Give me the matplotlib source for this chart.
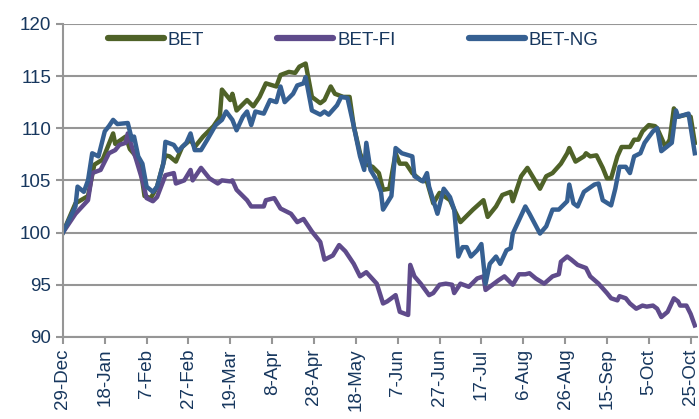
import pandas as pd
import matplotlib
matplotlib.use("Agg")
import matplotlib.pyplot as plt

plt.rcParams['font.family'] = ['Liberation Sans', 'DejaVu Sans']

start = pd.Timestamp('2006-12-29')

# days after 29-Dec and index level
bet_days = [0, 6, 12, 15, 19, 24, 25, 30, 32, 35, 37, 39, 42, 45, 49, 51, 54, 57, 61, 63, 67,
            72, 75, 76, 80, 81, 83, 88, 91, 94, 97, 102, 104, 108, 111, 113, 116, 119, 123, 125,
            128, 130, 134, 137, 139, 142, 144, 148, 151, 153, 156, 159, 161, 164, 167, 171, 174,
            177, 180, 185, 187, 190, 196, 201, 203, 207, 210, 214, 215, 219, 222, 228, 231, 234,
            238, 241, 242, 245, 249, 250, 252, 255, 258, 260, 262, 265, 267, 271, 273, 275, 277,
            280, 283, 284, 288, 290, 292, 294, 298, 300, 302]
bet_vals = [100, 102.8, 103.5, 106.5, 107.0, 109.5, 108.5, 109.2, 108.0, 107.3, 106.3, 103.5,
            103.3, 104.4, 107.4, 107.3, 106.8, 108.2, 108.9, 108.2, 109.2, 110.2, 111.1, 113.7,
            112.7, 113.3, 111.7, 112.7, 112.1, 113.0, 114.3, 114.0, 115.1, 115.4, 115.3, 115.9,
            116.2, 113.0, 112.4, 112.7, 114.0, 113.3, 113.0, 113.0, 110.2, 107.6, 106.6, 106.3,
            105.7, 104.1, 104.2, 107.6, 106.6, 106.6, 105.7, 105.0, 104.9, 102.8, 103.8, 103.1,
            102.2, 101.0, 102.2, 103.1, 101.5, 102.5, 103.6, 103.9, 103.0, 105.4, 106.2, 104.2,
            105.4, 105.7, 106.6, 107.6, 108.1, 106.8, 107.3, 107.6, 107.3, 107.4, 106.2, 105.2,
            105.2, 107.3, 108.2, 108.2, 108.9, 108.9, 109.7, 110.3, 110.2, 110.0, 108.2, 108.9,
            111.9, 111.1, 111.3, 111.1, 108.6]

ng_days = [0, 6, 7, 10, 12, 14, 17, 20, 22, 24, 26, 31, 33, 34, 36, 38, 40, 43, 45, 48, 49, 53,
           55, 59, 61, 63, 66, 69, 73, 76, 78, 81, 83, 86, 88, 90, 92, 96, 99, 102, 104, 106,
           110, 112, 115, 116, 119, 123, 125, 127, 131, 133, 136, 139, 142, 144, 145, 147, 150,
           152, 153, 157, 159, 162, 167, 168, 172, 174, 175, 179, 182, 185, 187, 189, 191, 193,
           195, 198, 200, 201, 202, 204, 207, 209, 212, 214, 215, 218, 221, 223, 228, 231, 234,
           237, 239, 241, 242, 244, 246, 249, 254, 256, 258, 262, 264, 266, 269, 271, 273, 276,
           278, 282, 284, 286, 291, 293, 294, 299, 302]
ng_vals = [100, 102.5, 104.4, 103.9, 105.0, 107.6, 107.3, 109.7, 110.2, 110.8, 110.4, 110.5,
           108.9, 109.2, 107.3, 106.6, 104.4, 103.9, 104.4, 106.6, 108.7, 108.4, 107.8, 108.6,
           109.5, 107.9, 107.9, 108.9, 110.3, 110.8, 111.6, 110.8, 109.8, 111.1, 111.6, 110.3,
           111.6, 111.4, 112.7, 112.5, 114.0, 112.5, 113.3, 114.1, 114.3, 114.9, 111.7, 111.3,
           111.6, 111.3, 112.2, 113.0, 112.9, 110.2, 107.3, 106.0, 108.6, 106.0, 105.0, 103.9,
           102.2, 103.5, 108.1, 107.6, 107.3, 105.4, 104.9, 105.7, 104.4, 101.8, 104.2, 103.4,
           102.2, 97.7, 98.6, 98.6, 97.7, 98.3, 98.9, 97.0, 95.1, 97.0, 97.7, 97.0, 98.3, 98.5,
           99.9, 101.2, 102.5, 101.8, 99.9, 100.6, 102.2, 102.2, 102.6, 103.0, 104.6, 102.8,
           102.5, 103.9, 104.6, 104.7, 103.1, 102.6, 104.2, 106.3, 106.3, 105.7, 107.3, 107.6,
           108.6, 109.7, 110.0, 107.8, 108.6, 111.7, 111.1, 111.4, 107.6]

fi_days = [0, 6, 12, 14, 18, 22, 25, 27, 30, 31, 33, 35, 38, 40, 43, 45, 49, 53, 54, 58, 61, 62,
           66, 70, 74, 76, 80, 81, 83, 88, 90, 96, 97, 101, 104, 109, 112, 115, 119, 123, 125,
           129, 132, 135, 139, 142, 145, 150, 153, 155, 159, 161, 165, 166, 168, 171, 175, 177,
           180, 183, 186, 187, 190, 194, 198, 201, 202, 206, 208, 211, 215, 218, 221, 223, 226,
           230, 234, 237, 238, 241, 243, 246, 250, 252, 256, 260, 262, 265, 266, 269, 271, 274,
           277, 279, 282, 284, 286, 289, 292, 294, 295, 298, 300, 302]
fi_vals = [100, 101.8, 103.1, 105.7, 106.0, 107.6, 107.9, 108.4, 108.6, 109.5, 108.2, 107.0,
           105.0, 103.3, 103.0, 103.4, 105.5, 105.7, 104.7, 105.0, 106.0, 105.0, 106.2, 105.2,
           104.7, 105.0, 104.9, 105.0, 104.1, 103.1, 102.5, 102.5, 103.1, 103.3, 102.3, 101.8,
           101.0, 101.3, 100.1, 99.1, 97.4, 97.8, 98.8, 98.2, 97.0, 95.8, 96.2, 95.1, 93.2, 93.4,
           94.0, 92.4, 92.1, 96.9, 95.8, 95.1, 94.0, 94.2, 95.0, 95.1, 95.0, 94.2, 95.1, 94.8,
           95.6, 95.8, 94.5, 95.1, 95.4, 95.8, 95.0, 96.0, 96.0, 96.1, 95.6, 95.1, 95.8, 96.0,
           97.2, 97.7, 97.4, 96.9, 96.6, 95.8, 95.1, 94.2, 93.7, 93.5, 93.9, 93.7, 93.2, 92.7,
           93.0, 92.9, 93.0, 92.7, 91.9, 92.4, 93.7, 93.4, 93.0, 93.0, 92.2, 91.1]

series = [
    ('BET', bet_days, bet_vals, '#4f6228'),
    ('BET-FI', fi_days, fi_vals, '#5f4b8b'),
    ('BET-NG', ng_days, ng_vals, '#366092'),
]

text_col = '#17375e'
grid_col = '#969696'

fig = plt.figure(figsize=(6.99, 4.19), dpi=100)
ax = fig.add_axes([0.090, 0.196, 0.907, 0.747])

for name, days, vals, col in series:
    dates = start + pd.to_timedelta(days, unit='D')
    ax.plot(dates, vals, color=col, lw=3.2, label=name, solid_joinstyle='round')

ticks = pd.date_range(start, periods=16, freq='20D')
ax.set_xticks(ticks)
ax.set_xticklabels([f"{d.day}-{d.strftime('%b')}" for d in ticks], rotation=90)
ax.set_xlim(start, start + pd.Timedelta(days=303))
ax.set_ylim(90, 120)
ax.set_yticks(range(90, 121, 5))

ax.grid(axis='y', color=grid_col, lw=1.5)
ax.set_axisbelow(True)
for s in ['top', 'right']:
    ax.spines[s].set_visible(False)
for s in ['left', 'bottom']:
    ax.spines[s].set_color(grid_col)
    ax.spines[s].set_linewidth(1.5)
ax.tick_params(axis='both', colors=grid_col, labelcolor=text_col, labelsize=13.5,
               length=5, width=1.5)

leg = ax.legend(loc='upper center', bbox_to_anchor=(0.505, 0.965), bbox_transform=fig.transFigure,
                ncol=3, frameon=False, fontsize=13.5, labelcolor=text_col, handlelength=3.0,
                handletextpad=0.2, columnspacing=3.9)
for ln in leg.get_lines():
    ln.set_linewidth(4.5)
    ln.set_solid_capstyle('round')

fig.savefig('out.png', dpi=100)
